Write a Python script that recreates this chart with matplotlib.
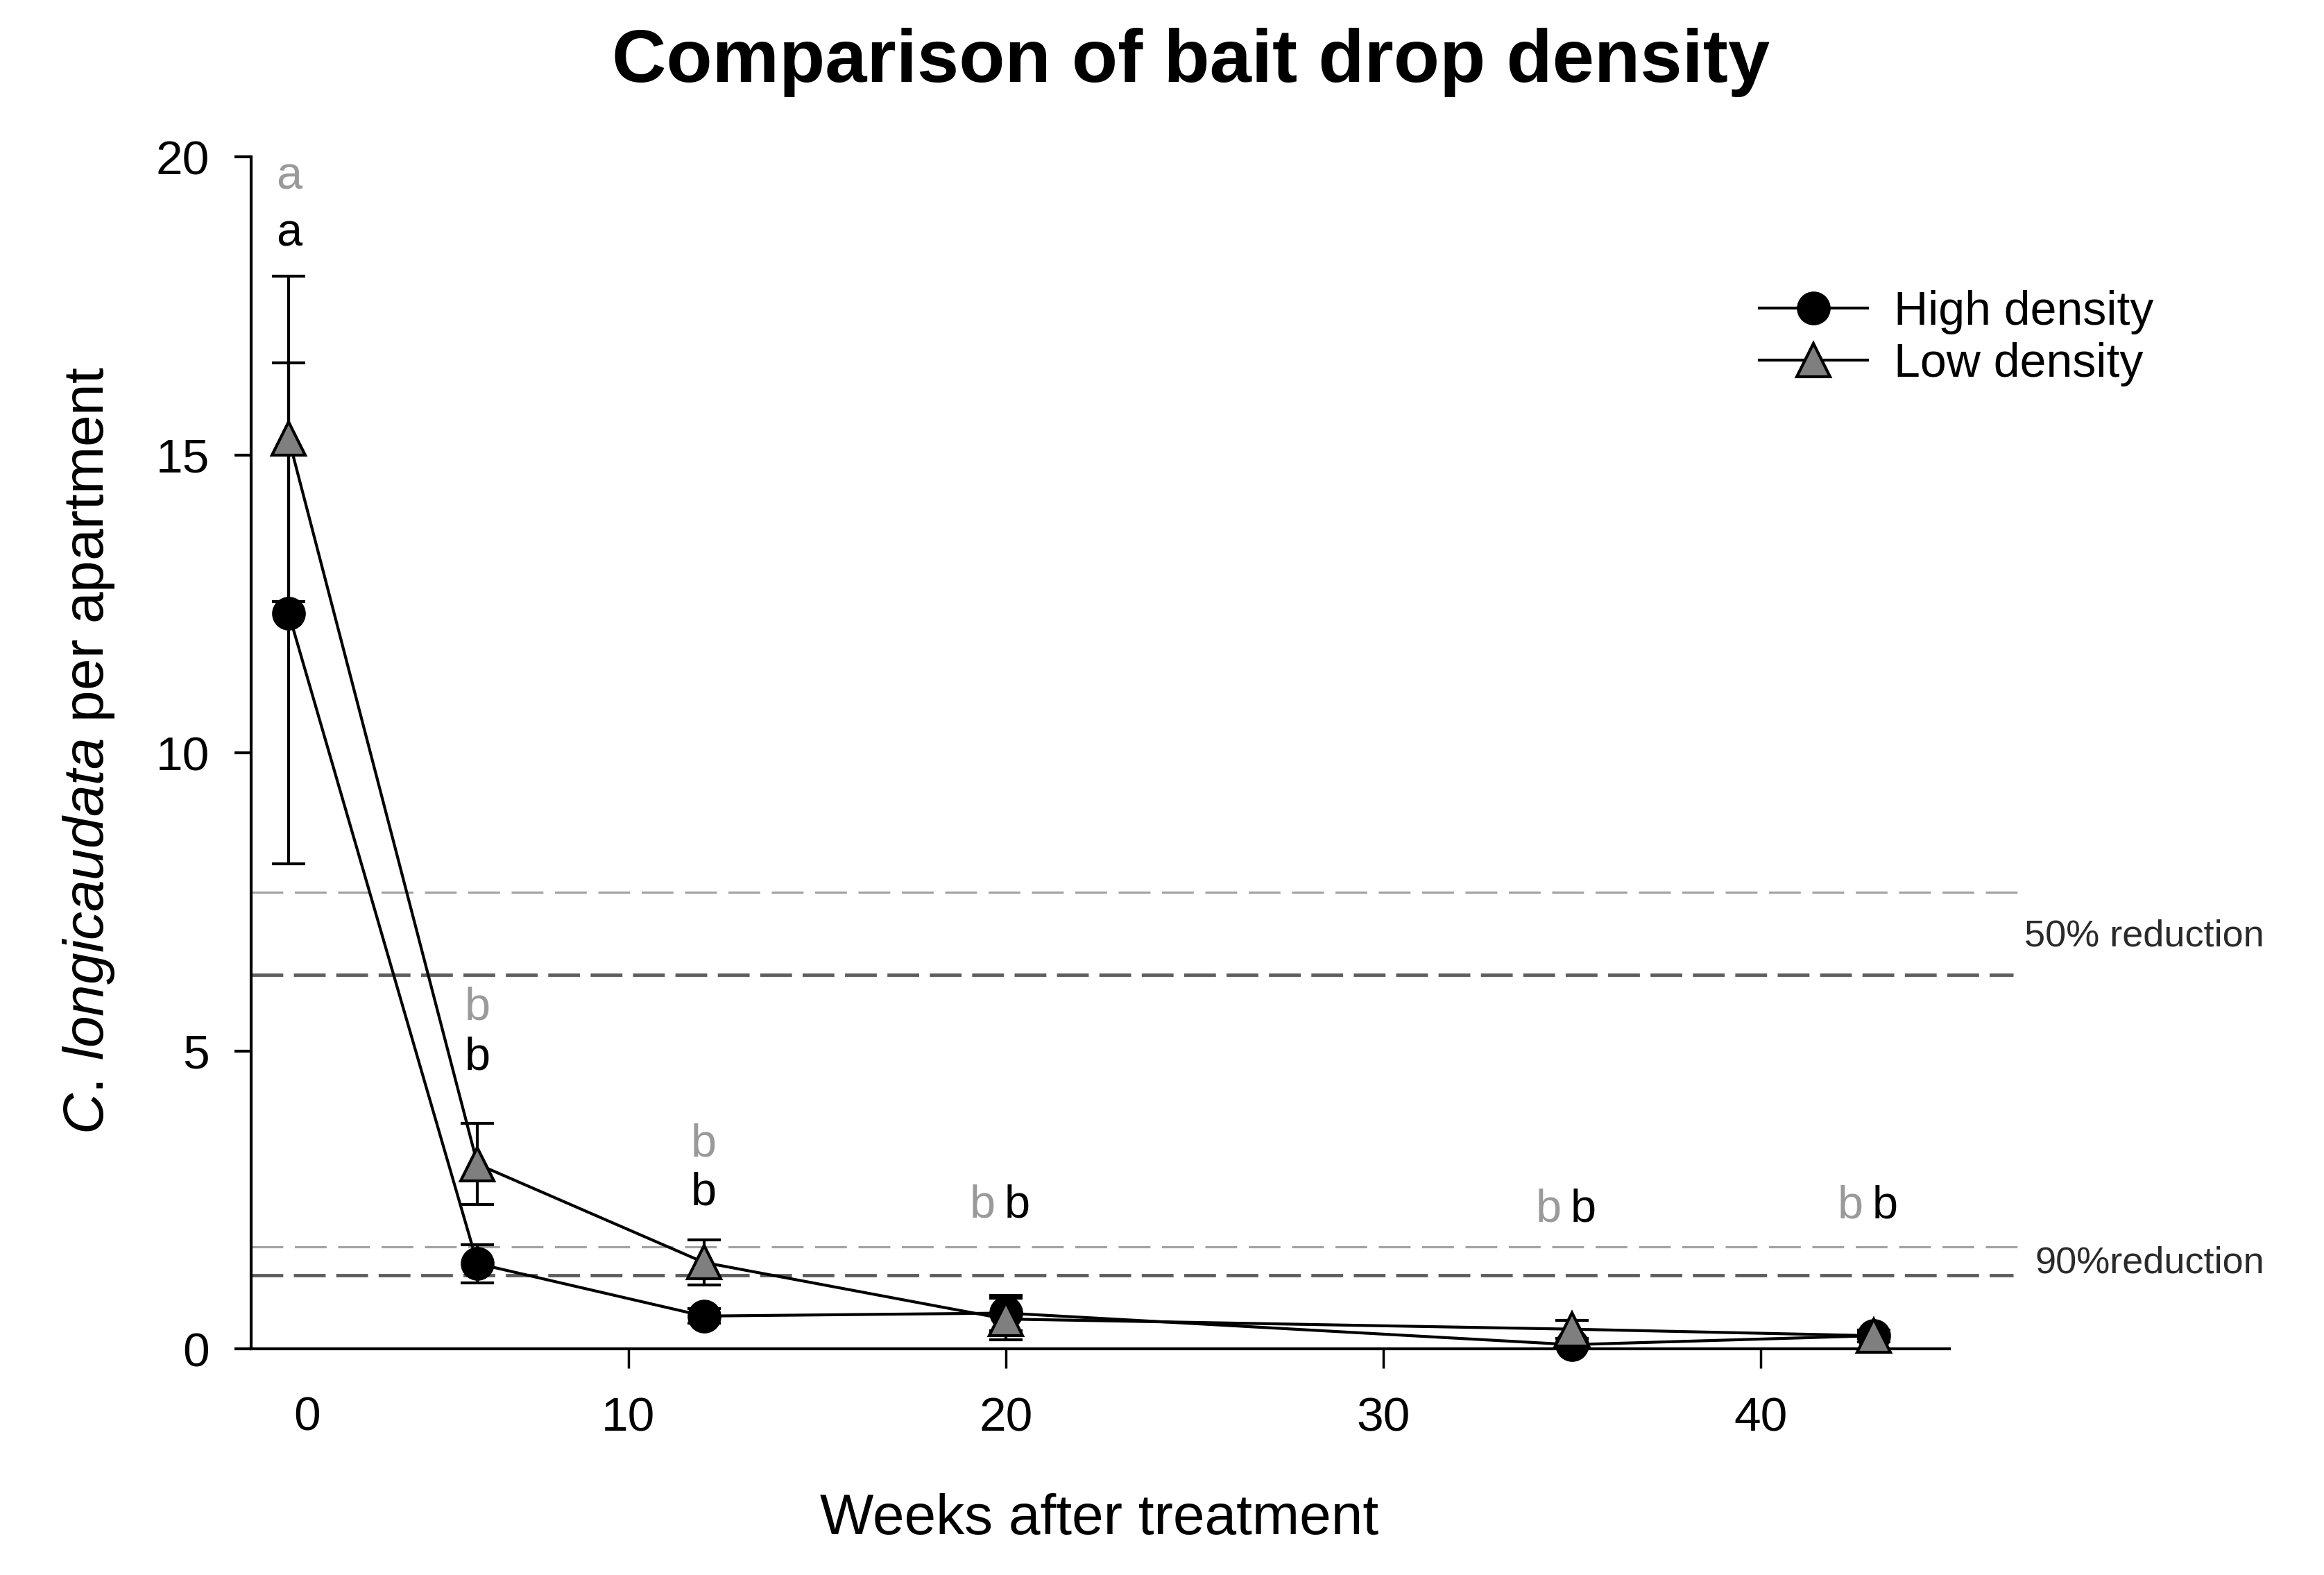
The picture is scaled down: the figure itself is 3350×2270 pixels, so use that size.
import matplotlib
matplotlib.use("Agg")
import matplotlib.pyplot as plt
from matplotlib.lines import Line2D

plt.rcParams['font.family'] = ['Liberation Sans', 'DejaVu Sans']
plt.rcParams['mathtext.fontset'] = 'custom'
plt.rcParams['mathtext.rm'] = 'Liberation Sans'
plt.rcParams['mathtext.it'] = 'Liberation Sans:italic'
plt.rcParams['lines.scale_dashes'] = False

# ---- data ----
weeks = [1, 6, 12, 20, 35, 43]
high_mean = [12.34, 1.43, 0.55, 0.6, 0.07, 0.22]
high_err = [4.2, 0.32, 0.12, 0.3, 0.05, 0.05]
low_mean = [15.27, 3.1, 1.45, 0.5, 0.33, 0.22]
low_err = [2.73, 0.68, 0.38, 0.35, 0.15, 0.1]

ref_levels_low = [7.66, 1.71]   # light gray dashed (low density 50% / 90%)
ref_levels_high = [6.27, 1.24]  # dark gray dashed (high density 50% / 90%)
ref_labels = ['50% reduction', '90%reduction']

letters_low = ['a', 'b', 'b', 'b', 'b', 'b']
letters_high = ['a', 'b', 'b', 'b', 'b', 'b']
letters_low_y = [19.66, 5.72, 3.43, 2.41, 2.34, 2.39]
letters_high_y = [18.7, 4.88, 2.61, 2.41, 2.34, 2.39]

xtick_vals = [10, 20, 30, 40]
ytick_vals = [0, 5, 10, 15, 20]

# ---- figure ----
fig = plt.figure(figsize=(33.5, 22.7), dpi=100)
ax = fig.add_axes([0.108, 0.1436, 0.7307, 0.7568])
ax.set_xlim(0, 45)
ax.set_ylim(0, 20)

LIGHT = '#a3a3a3'
DARK = '#5e5e5e'
for lv in ref_levels_low:
    ax.plot([0, 46.8], [lv, lv], color=LIGHT, lw=2.3, dashes=(33, 12),
            clip_on=False, zorder=1)
for lv in ref_levels_high:
    ax.plot([0, 46.7], [lv, lv], color=DARK, lw=3.5, dashes=(33, 11),
            clip_on=False, zorder=1)

ax.text(47.0, 6.92, ref_labels[0], fontsize=39, color='#2a2a2a',
        va='center', ha='left', clip_on=False)
ax.text(47.27, 1.44, ref_labels[1], fontsize=39, color='#2a2a2a',
        va='center', ha='left', clip_on=False)

ax.errorbar(weeks, high_mean, yerr=high_err, fmt='none', ecolor='black',
            elinewidth=3, capsize=17, capthick=3, zorder=3, clip_on=False)
ax.errorbar(weeks, low_mean, yerr=low_err, fmt='none', ecolor='black',
            elinewidth=3, capsize=17, capthick=3, zorder=3, clip_on=False)
ax.plot(weeks, high_mean, color='black', lw=3, marker='o', markersize=34,
        markerfacecolor='black', markeredgecolor='black', zorder=4,
        clip_on=False, label='High density')
ax.plot(weeks, low_mean, color='black', lw=3, marker='^', markersize=34,
        markerfacecolor='#7f7f7f', markeredgecolor='black', markeredgewidth=3,
        zorder=5, clip_on=False, label='Low density')

# significance letters
for i, w in enumerate(weeks):
    if i < 3:
        ax.text(w, letters_low_y[i], letters_low[i], color='#9a9a9a',
                fontsize=48, ha='center', va='center')
        ax.text(w, letters_high_y[i], letters_high[i], color='black',
                fontsize=48, ha='center', va='center')
    else:
        ax.text(w - 0.62, letters_low_y[i], letters_low[i], color='#9a9a9a',
                fontsize=48, ha='center', va='center')
        ax.text(w + 0.3, letters_high_y[i], letters_high[i], color='black',
                fontsize=48, ha='center', va='center')

# axes styling
for s in ['top', 'right']:
    ax.spines[s].set_visible(False)
for s in ['left', 'bottom']:
    ax.spines[s].set_linewidth(3)
ax.set_xticks(xtick_vals)
ax.set_yticks(ytick_vals)
ax.tick_params(axis='x', direction='out', length=20, width=2.5, pad=29,
               labelsize=50)
ax.tick_params(axis='y', direction='out', length=17, width=3, pad=26,
               labelsize=50)
ax.text(1.49, -0.058, '0', transform=ax.get_xaxis_transform(), fontsize=50,
        ha='center', va='center')

ax.set_xlabel('Weeks after treatment', fontsize=59)
ax.xaxis.set_label_coords(0.4996, -0.121)
ax.set_ylabel(r'$\it{C.\,longicaudata}$ per apartment', fontsize=59)
ax.yaxis.set_label_coords(-0.079, 0.502)
fig.text(0.5123, 0.9604, 'Comparison of bait drop density', fontsize=78,
         fontweight='bold', ha='center', va='center')

handles = [
    Line2D([], [], color='black', lw=3, marker='o', markersize=34,
           markerfacecolor='black', markeredgecolor='black'),
    Line2D([], [], color='black', lw=3, marker='^', markersize=34,
           markerfacecolor='#7f7f7f', markeredgecolor='black',
           markeredgewidth=3),
]
fig.legend(handles, ['High density', 'Low density'], loc='upper left',
           bbox_to_anchor=(0.757, 0.816), frameon=False, fontsize=49,
           handlelength=2.3, handletextpad=0.55, labelspacing=0.16,
           borderaxespad=0, borderpad=0)

fig.savefig('out.png', dpi=100)
